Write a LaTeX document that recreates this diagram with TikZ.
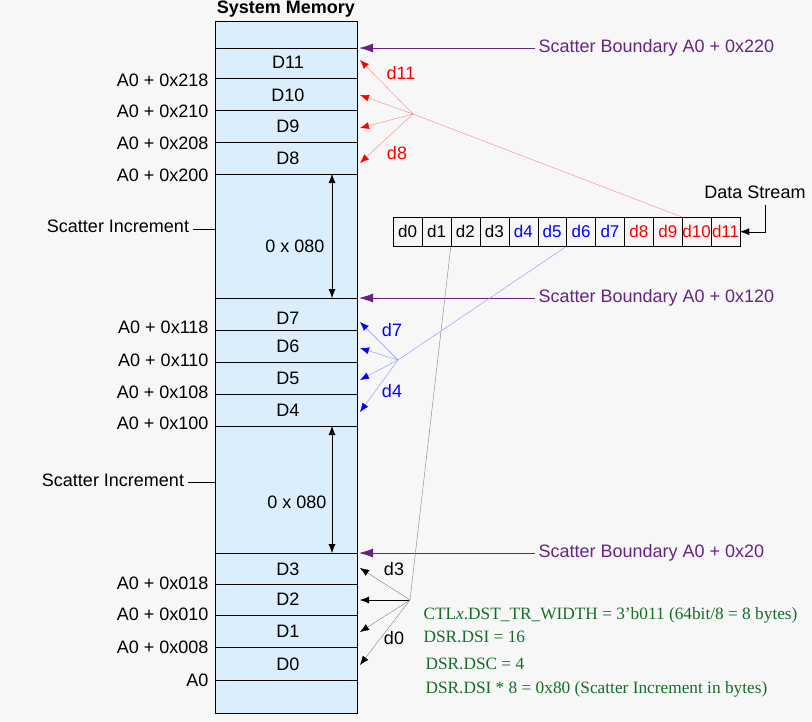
\documentclass[tikz,border=0pt]{standalone}
\usepackage{fontspec}
\setmainfont{Liberation Sans}
\newfontfamily\tms{Liberation Serif}
\usetikzlibrary{arrows.meta}
\definecolor{memfill}{RGB}{218,238,252}
\definecolor{bpurple}{RGB}{102,36,130}
\definecolor{dgreen}{RGB}{20,110,40}
\begin{document}
\begin{tikzpicture}[x=1pt,y=-1pt,
 fs/.style={font=\fontsize{18}{20}\selectfont},
 every node/.style={fs},
 lab/.style={anchor=east},
 bnd/.style={draw=bpurple,thick,-{Latex[length=14pt,width=9pt]}},
 bl/.style={bpurple},
 rd/.style={draw=red!50,thin,-{Latex[length=9pt,width=7pt,fill=red,color=red]}},
 bu/.style={draw=blue!45,thin,-{Latex[length=9pt,width=7pt,fill=blue,color=blue]}},
 gy/.style={draw=gray,thin,-{Latex[length=9pt,width=7pt,fill=black,color=black]}},
 gr/.style={dgreen,anchor=west,font=\tms\fontsize{17.3}{20}\selectfont},
 cell/.style={draw,font=\fontsize{17}{19}\selectfont,minimum width=28.9pt,minimum height=29pt,inner sep=0pt}]
\useasboundingbox (0,0) rectangle (812,721);
\fill[white!97!black] (0,0) rectangle (812,721);
\draw[fill=memfill] (215,21) rectangle (357,713);
\foreach \y in {48,78,110,142,174,298,330,362,394,426,553,584,615,647,680}
  \draw (215,\y) -- (357,\y);
\node[font=\bfseries\fontsize{18}{20}\selectfont] (title) at (286,9) {System Memory};
\foreach \t/\y in {D11/62,D10/95,D9/126,D8/158,D7/318,D6/346,D5/378,D4/410,D3/569,D2/599,D1/631,D0/664}
  \node (m\t) at (288,\y) {\t};
\foreach \t/\y in {218/80,210/111,208/143,200/175,118/327,110/360,108/392,100/423,018/583,010/614,008/647}
  \node[lab] (a\t) at (212,\y) {A0 + 0x\t};
\node[lab] (a0) at (212,680) {A0};
% increments
\coordinate (i1a) at (332,174); \coordinate (i1b) at (332,298);
\coordinate (i2a) at (332,426); \coordinate (i2b) at (332,553);
\draw[{Latex[length=9pt,width=7pt]}-{Latex[length=9pt,width=7pt]}] (i1a) -- (i1b);
\draw[{Latex[length=9pt,width=7pt]}-{Latex[length=9pt,width=7pt]}] (i2a) -- (i2b);
\node (n1) at (295,246) {0 x 080};
\node (n2) at (297,502) {0 x 080};
\node (s1) at (118,226) {Scatter Increment};
\node (s2) at (113,480) {Scatter Increment};
\coordinate (s1e) at (215,229); \coordinate (s2e) at (215,482);
\draw[black] (s1.east |- s1e) -- (s1e);
\draw[black] (s2.east |- s2e) -- (s2e);
% boundaries
\foreach \n/\y/\t in {1/48/0x220,2/298/0x120,3/553/0x20}{
  \node[bl,anchor=west] (b\n) at (535,\y) {Scatter Boundary A0 + \t};
  \coordinate (bt\n) at (359,\y);
  \draw[bnd] (b\n.west) -- (bt\n);
}
% data stream
\foreach \i/\c in {0/black,1/black,2/black,3/black,4/blue,5/blue,6/blue,7/blue,8/red,9/red,10/red,11/red}
  \node[cell,text=\c,anchor=north west] (d\i) at ({393+\i*28.9},217) {d\i};
\node (ds) at (755,192) {Data Stream};
\coordinate (dsk) at (765,205);
\draw[-{Latex[length=9pt,width=7pt]}] (dsk) |- (d11.east);
% red
\coordinate (rp) at (413,114);
\draw[red!50,thin] (d10.north west) -- (rp);
\foreach \y in {60,95,128,163} {\draw[rd] (rp) -- (360,\y);}
\node[red] (l11) at (401,73) {d11};
\node[red] (l8) at (397,153) {d8};
% blue
\coordinate (bp) at (398,360);
\draw[blue!45,thin] (d6.south west) -- (bp);
\foreach \y in {322,348,380,412} {\draw[bu] (bp) -- (360,\y);}
\node[blue] (l7) at (392,330) {d7};
\node[blue] (l4) at (392,391) {d4};
% black
\coordinate (kp) at (410,600);
\draw[gray,thin] (d2.south west) -- (kp);
\draw[gy] (kp) -- (360,568);
\draw[-{Latex[length=9pt,width=7pt]}] (kp) -- (360,600);
\draw[gy] (kp) -- (360,632);
\draw[gy] (kp) -- (360,665);
\node (l3) at (394,569) {d3};
\node (l0) at (394,638) {d0};
\node[gr] (g1) at (420,615) {CTL\textit{x}.DST\_TR\_WIDTH = 3’b011 (64bit/8 = 8 bytes)};
\node[gr] (g2) at (420,637) {DSR.DSI = 16};
\node[gr] (g3) at (422,664) {DSR.DSC = 4};
\node[gr] (g4) at (422,689) {DSR.DSI * 8 = 0x80 (Scatter Increment in bytes)};
\end{tikzpicture}
\end{document}
